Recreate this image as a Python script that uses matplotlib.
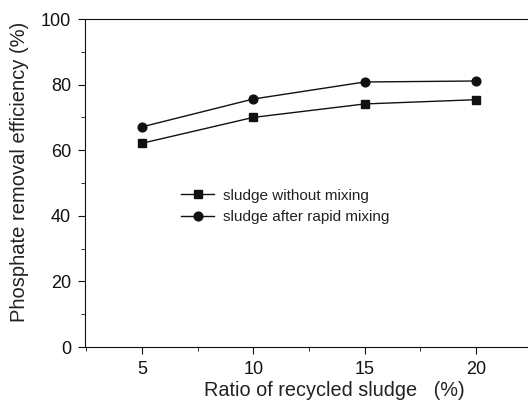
import matplotlib
matplotlib.use('Agg')
import matplotlib.pyplot as plt
from matplotlib.ticker import MultipleLocator

plt.rcParams['font.family'] = ['Liberation Sans', 'DejaVu Sans']

# datos
ratio = [5, 10, 15, 20]
without_mixing = [62.1, 70.0, 74.1, 75.4]
after_mixing = [67.1, 75.6, 80.8, 81.1]

fig = plt.figure(figsize=(5.28, 4.07), dpi=100)
ax = fig.add_axes([85 / 528, 60 / 407, 1 - 85 / 528, 328 / 407])

ax.plot(ratio, without_mixing, color='#111111', marker='s', markersize=5.5, lw=1,
        label='sludge without mixing')
ax.plot(ratio, after_mixing, color='#111111', marker='o', markersize=6.3, lw=1,
        label='sludge after rapid mixing')

ax.set_xlim(2.45, 22.33)
ax.set_ylim(0, 100)
ax.xaxis.set_major_locator(MultipleLocator(5))
ax.xaxis.set_minor_locator(MultipleLocator(2.5))
ax.yaxis.set_major_locator(MultipleLocator(20))
ax.yaxis.set_minor_locator(MultipleLocator(10))
ax.spines['right'].set_visible(False)
for s in ['left', 'bottom', 'top']:
    ax.spines[s].set_color('#111111')
ax.tick_params(which='major', length=5, colors='#111111', labelsize=13, pad=5)
ax.tick_params(which='minor', length=3, colors='#111111')

ax.set_xlabel('Ratio of recycled sludge   (%)', fontsize=14.3, color='#222222')
ax.xaxis.set_label_coords(0.562, -0.105)
ax.set_ylabel('Phosphate removal efficiency (%)', fontsize=14.5, color='#222222')
ax.yaxis.set_label_coords(-0.126, 0.534)

ax.legend(loc='upper left', bbox_to_anchor=(0.185, 0.525), frameon=False,
          fontsize=11, handlelength=2.2, handletextpad=0.6, labelspacing=0.5,
          labelcolor='#222222')

plt.savefig('out.png')
plt.close()
